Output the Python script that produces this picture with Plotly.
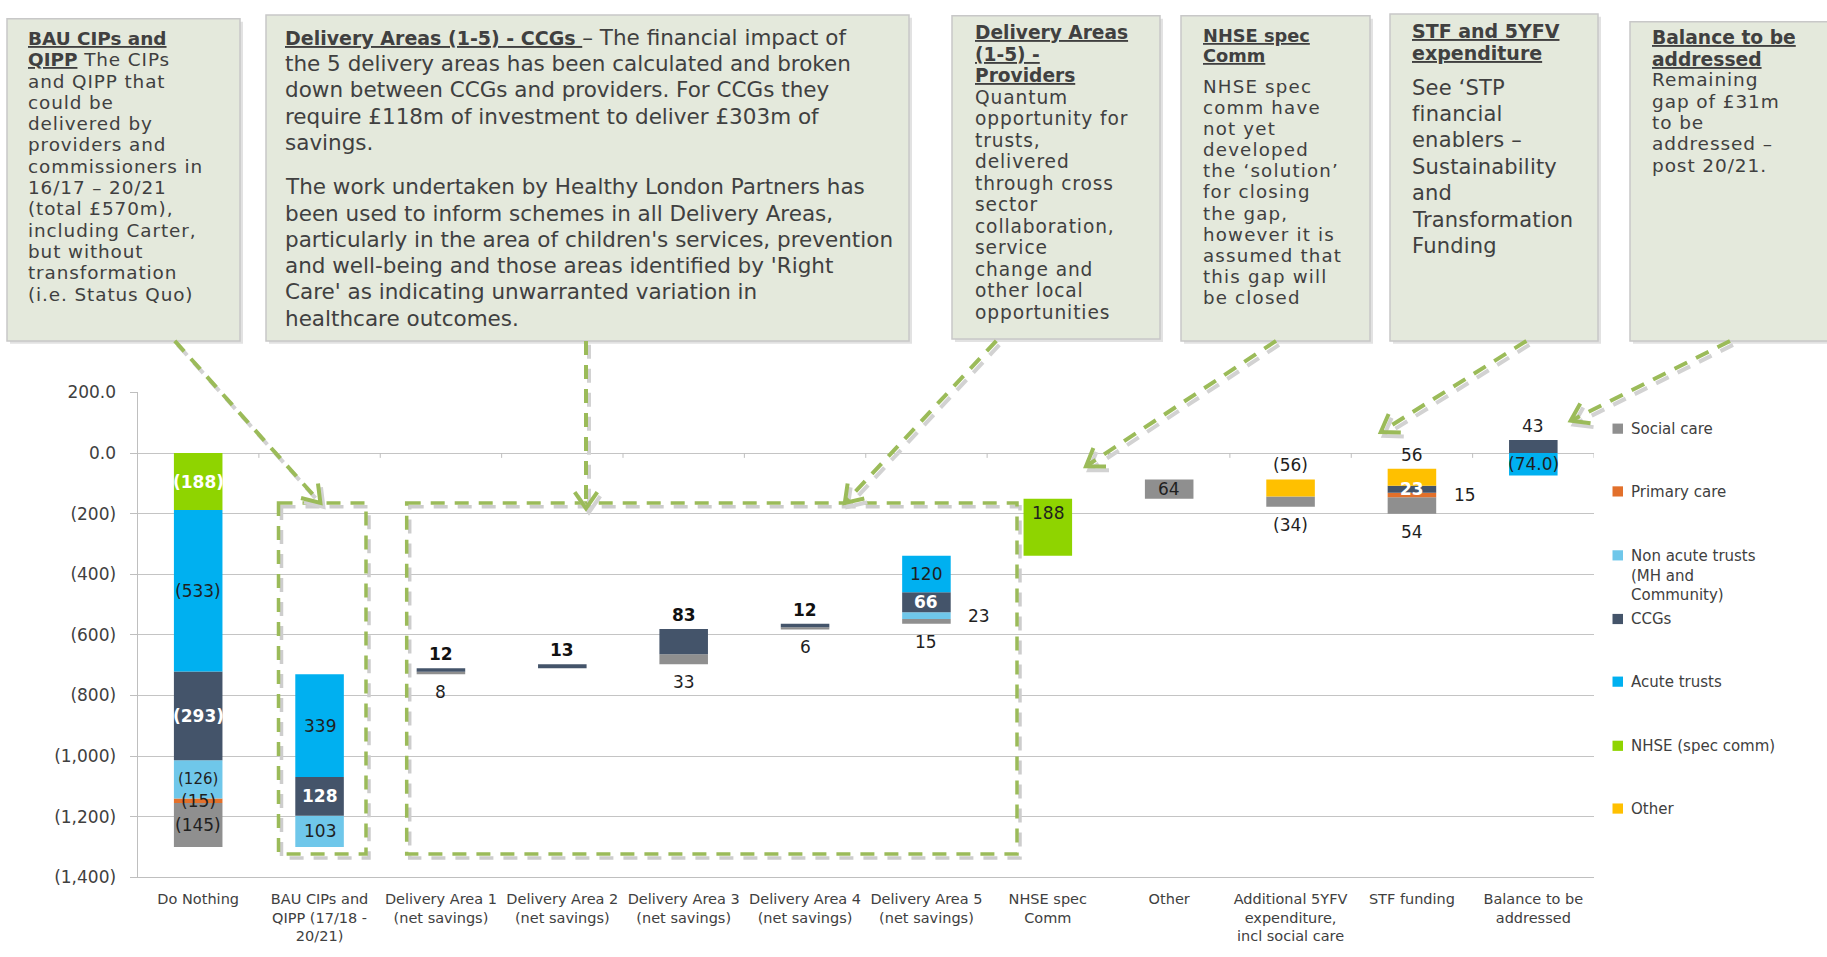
import math
import plotly.graph_objects as go

W, H = 1827, 957


def X(p):
    return p / W


def Y(p):
    return 1 - p / H


# ---------------- data ----------------
categories = [
    "Do Nothing",
    "BAU CIPs and<br>QIPP (17/18 -<br>20/21)",
    "Delivery Area 1<br>(net savings)",
    "Delivery Area 2<br>(net savings)",
    "Delivery Area 3<br>(net savings)",
    "Delivery Area 4<br>(net savings)",
    "Delivery Area 5<br>(net savings)",
    "NHSE spec<br>Comm",
    "Other",
    "Additional 5YFV<br>expenditure,<br>incl social care",
    "STF funding",
    "Balance to be<br>addressed",
]

# series in visual stacking order (bottom -> top)
series_names = ["Social care", "Primary care", "Non acute trusts<br>(MH and<br>Community)",
                "CCGs", "Acute trusts", "NHSE (spec comm)", "Other"]
series_colors = ["#8f8f8f", "#e2702b", "#6fc7ea", "#44546a", "#00b0f0", "#8fd400", "#ffc000"]

social_care = [-145, None, 8, None, 33, 6, 15, None, 64, -34, 54, None]
primary_care = [-15, None, None, None, None, None, None, None, None, None, 15, None]
non_acute = [-126, 103, None, None, None, None, 23, None, None, None, None, None]
ccgs = [-293, 128, 12, 13, 83, 12, 66, None, None, None, 23, 43]
acute_trusts = [-533, 339, None, None, None, None, 120, None, None, None, None, -74]
nhse_spec = [-188, None, None, None, None, None, None, 188, None, None, None, None]
other = [None, None, None, None, None, None, None, None, None, -56, 56, None]

# level each waterfall bar starts from (Excel hidden base)
start_level = [0, -1300, -730, -710, -697, -581, -563, -339, -151, -87, -200, 0]

series_values = [social_care, primary_care, non_acute, ccgs, acute_trusts, nhse_spec, other]

y_tick_values = [200, 0, -200, -400, -600, -800, -1000, -1200, -1400]
y_tick_labels = ["200.0", "0.0", "(200)", "(400)", "(600)", "(800)", "(1,000)", "(1,200)", "(1,400)"]

# (category, series, position, style)
label_specs = [
    (0, 5, "in", "w"), (0, 4, "in", "d"), (0, 3, "in", "w"), (0, 2, "in", "s"),
    (0, 1, "in", "d"), (0, 0, "in", "d"),
    (1, 4, "in", "d"), (1, 3, "in", "w"), (1, 2, "in", "d"),
    (2, 3, "above", "b"), (2, 0, "below", "d"),
    (3, 3, "above", "b"),
    (4, 3, "above", "b"), (4, 0, "below", "d"),
    (5, 3, "above", "b"), (5, 0, "below", "d"),
    (6, 4, "in", "d"), (6, 3, "in", "w"), (6, 2, "right", "d"), (6, 0, "below", "d"),
    (7, 5, "intop", "d"),
    (8, 0, "in", "d"),
    (9, 6, "above", "d"), (9, 0, "below", "d"),
    (10, 6, "above", "d"), (10, 3, "in", "w"), (10, 1, "right", "d"), (10, 0, "below", "d"),
    (11, 3, "above", "d"), (11, 4, "in", "d"),
]
label_decimals = {(11, 4): 1}

# ---------------- build bars ----------------
n = len(categories)
segs = {}
bar_top, bar_bot = [], []
for i in range(n):
    S = start_level[i]
    up = S
    down = S
    for s, vals in enumerate(series_values):
        v = vals[i]
        if v is not None and v > 0:
            segs[(i, s)] = (up, up + v)
            up += v
    for s in reversed(range(len(series_values))):
        v = series_values[s][i]
        if v is not None and v < 0:
            segs[(i, s)] = (down + v, down)
            down += v
    bar_top.append(up)
    bar_bot.append(down)

fig = go.Figure()
for s, name in enumerate(series_names):
    xs, ys, bs = [], [], []
    for i in range(n):
        if (i, s) in segs:
            lo, hi = segs[(i, s)]
            xs.append(i)
            ys.append(hi - lo)
            bs.append(lo)
    fig.add_trace(go.Bar(x=xs, y=ys, base=bs, width=0.4, name=name,
                         marker=dict(color=series_colors[s], line=dict(width=0)),
                         showlegend=False, hoverinfo="skip"))

annotations = []
shapes = []

FONT = "DejaVu Sans"
styles = {
    "w": dict(family=FONT, size=17, color="#ffffff", weight="bold"),
    "d": dict(family=FONT, size=17, color="#1f1f1f"),
    "b": dict(family=FONT, size=17, color="#111111", weight="bold"),
    "s": dict(family=FONT, size=15, color="#1f1f1f"),
}


def fmt(v, d=0):
    t = f"{abs(v):,.{d}f}"
    return f"({t})" if v < 0 else t


for (i, s, pos, st) in label_specs:
    v = series_values[s][i]
    lo, hi = segs[(i, s)]
    txt = fmt(v, label_decimals.get((i, s), 0))
    a = dict(xref="x", yref="y", text=txt, showarrow=False, font=styles[st], x=i)
    if pos == "in":
        a.update(y=(lo + hi) / 2, yanchor="middle")
    elif pos == "intop":
        a.update(y=hi, yanchor="top", yshift=-2)
    elif pos == "above":
        a.update(y=bar_top[i], yanchor="middle", yshift=14)
    elif pos == "below":
        a.update(y=bar_bot[i], yanchor="middle", yshift=-18)
    elif pos == "right":
        a.update(x=i + 0.33, xanchor="left", y=(lo + hi) / 2, yanchor="middle")
    annotations.append(a)

# small category ticks on the zero line
for k in range(n + 1):
    shapes.append(dict(type="line", xref="x", yref="y", x0=k - 0.5, x1=k - 0.5, y0=0, y1=-16,
                       line=dict(color="#bfbfbf", width=1)))

# ---------------- text boxes ----------------
BOX_FILL = "#e4e9dc"
BODY = "#404040"

# each line: (underlined bold header part, normal body part)
boxes = [
    dict(rect=(7, 9, 240, 338), tx=25.5, size=18.4, hsize=18.4, ls=0.9, lines=[
        (29.1, 21.75, [("BAU CIPs and", ""), ("QIPP", " The CIPs"), ("", "and QIPP that"),
                       ("", "could be"), ("", "delivered by"), ("", "providers and"),
                       ("", "commissioners in"), ("", "16/17 – 20/21"), ("", "(total £570m),"),
                       ("", "including Carter,"), ("", "but without"), ("", "transformation"),
                       ("", "(i.e. Status Quo)")])]),
    dict(rect=(266, 5, 909, 338), tx=283, size=21.5, hsize=19, ls=0, lines=[
        (28, 26.8, [("Delivery Areas (1-5) - CCGs ", "– The financial impact of"),
                    ("", "the 5 delivery areas has been calculated and broken"),
                    ("", "down between CCGs and providers. For CCGs they"),
                    ("", "require £118m of investment to deliver £303m of"),
                    ("", "savings.")]),
        (180.6, 26.8, [("", "The work undertaken by Healthy London Partners has"),
                       ("", "been used to inform schemes in all Delivery Areas,"),
                       ("", "particularly in the area of children's services, prevention"),
                       ("", "and well-being and those areas identified by 'Right"),
                       ("", "Care' as indicating unwarranted variation in"),
                       ("", "healthcare outcomes.")])]),
    dict(rect=(952, 6, 1160, 336), tx=973, size=18.6, hsize=18.6, ls=0.9, lines=[
        (23.3, 21.95, [("Delivery Areas", ""), ("(1-5) -", ""), ("Providers", ""),
                       ("", "Quantum"), ("", "opportunity for"), ("", "trusts,"), ("", "delivered"),
                       ("", "through cross"), ("", "sector"), ("", "collaboration,"), ("", "service"),
                       ("", "change and"), ("", "other local"), ("", "opportunities")])]),
    dict(rect=(1181, 6, 1370, 338), tx=1201, size=18.2, hsize=17.8, ls=1.2, lines=[
        (25.6, 21.0, [("NHSE spec", ""), ("Comm", "")]),
        (78.1, 21.55, [("", "NHSE spec"), ("", "comm have"), ("", "not yet"), ("", "developed"),
                       ("", "the ‘solution’"), ("", "for closing"), ("", "the gap,"),
                       ("", "however it is"), ("", "assumed that"), ("", "this gap will"),
                       ("", "be closed")])]),
    dict(rect=(1390, 4, 1598, 338), tx=1410, size=21, hsize=19, ls=0.2, lines=[
        (21, 23.3, [("STF and 5YFV", ""), ("expenditure", "")]),
        (79.2, 27.0, [("", "See ‘STP"), ("", "financial"), ("", "enablers –"),
                      ("", "Sustainability"), ("", "and"), ("", "Transformation"), ("", "Funding")])]),
    dict(rect=(1630, 12, 1840, 338), tx=1650, size=18.5, hsize=18.7, ls=0.9, lines=[
        (28, 22.1, [("Balance to be", ""), ("addressed", "")]),
        (71.1, 21.85, [("", "Remaining"), ("", "gap of £31m"), ("", "to be"), ("", "addressed –"),
                       ("", "post 20/21.")])]),
]

for b in boxes:
    x0, y0, x1, y1 = b["rect"]
    shapes.append(dict(type="rect", xref="paper", yref="paper", layer="above",
                       x0=X(x0 + 3), x1=X(x1 + 3), y0=Y(y0 + 3), y1=Y(y1 + 3),
                       fillcolor="#d6d6d6", line=dict(width=0), opacity=0.7))
    shapes.append(dict(type="rect", xref="paper", yref="paper", layer="above",
                       x0=X(x0), x1=X(x1), y0=Y(y0), y1=Y(y1),
                       fillcolor=BOX_FILL, line=dict(color="#c8c8c8", width=1.5)))
    for (ystart, dy, lines) in b["lines"]:
        for k, (head, body) in enumerate(lines):
            t = ""
            if head:
                t += f"<span style='font-size:{b['hsize']}px'><b><u>{head}</u></b></span>"
            if body:
                if b["ls"]:
                    t += f"<span style='letter-spacing:{b['ls']}px'>{body}</span>"
                else:
                    t += body
            annotations.append(dict(xref="paper", yref="paper", x=X(b["tx"]), y=Y(ystart + k * dy),
                                    xanchor="left", yanchor="middle", showarrow=False, text=t,
                                    font=dict(family=FONT, size=b["size"], color=BODY)))

# ---------------- dashed highlight rectangles ----------------
GREEN = "#9bbb59"
for (x0, y0, x1, y1) in [(278.5, 503.4, 366, 862), (406.7, 503.4, 1017, 862)]:
    shapes.append(dict(type="rect", xref="paper", yref="paper", layer="above",
                       x0=X(x0 + 3), x1=X(x1 + 3), y0=Y(y0 + 4), y1=Y(y1 + 4),
                       line=dict(color="#cdcdcd", width=3.5, dash="14px,10px")))
    shapes.append(dict(type="rect", xref="paper", yref="paper", layer="above",
                       x0=X(x0), x1=X(x1), y0=Y(y0), y1=Y(y1),
                       line=dict(color=GREEN, width=3.5, dash="14px,10px")))

# ---------------- dashed arrows ----------------
arrows = [
    ((174.8, 338), (320.4, 503.4)),
    ((586, 338), (586, 509)),
    ((996.3, 338), (844.8, 503.4)),
    ((1276, 338), (1086, 466)),
    ((1526.4, 338), (1380.8, 431)),
    ((1730, 338), (1570.7, 419.5)),
]
for (sx, sy), (ex, ey) in arrows:
    for off, col in [((3, 4), "#d2d2d2"), ((0, 0), GREEN)]:
        ox, oy = off
        shapes.append(dict(type="line", xref="paper", yref="paper", layer="above",
                           x0=X(sx + ox), y0=Y(sy + oy), x1=X(ex + ox), y1=Y(ey + oy),
                           line=dict(color=col, width=4, dash="14px,10px")))
        ang = math.atan2(sy - ey, sx - ex)
        L = 20
        a1 = (ex + ox + L * math.cos(ang + 0.6), ey + oy + L * math.sin(ang + 0.6))
        a2 = (ex + ox + L * math.cos(ang - 0.6), ey + oy + L * math.sin(ang - 0.6))
        path = (f"M {X(a1[0])},{Y(a1[1])} L {X(ex + ox)},{Y(ey + oy)} L {X(a2[0])},{Y(a2[1])}")
        shapes.append(dict(type="path", xref="paper", yref="paper", layer="above", path=path,
                           line=dict(color=col, width=4)))

# ---------------- legend (drawn manually) ----------------
legend_rows = [427.6, 491.7, 557, 622, 686, 751.5, 815.6]
for s, name in enumerate(series_names):
    yc = legend_rows[s]
    shapes.append(dict(type="rect", xref="paper", yref="paper", x0=X(1612.5), x1=X(1623),
                       y0=Y(yc + 5.2), y1=Y(yc - 5.2), fillcolor=series_colors[s],
                       line=dict(width=0)))
    annotations.append(dict(xref="paper", yref="paper", x=X(1629), y=Y(yc - 11),
                            xanchor="left", yanchor="top", showarrow=False, text=name, align="left",
                            font=dict(family=FONT, size=15, color="#404040")))

fig.update_layout(
    width=W, height=H,
    margin=dict(l=0, r=0, t=0, b=0),
    paper_bgcolor="white", plot_bgcolor="white",
    barmode="overlay", showlegend=False,
    xaxis=dict(domain=[X(137.5), X(1594)], range=[-0.5, n - 0.5],
               tickvals=list(range(n)), ticktext=categories,
               tickfont=dict(family=FONT, size=14.5, color="#404040"),
               showgrid=False, zeroline=False, showline=True, linecolor="#bfbfbf", linewidth=1,
               ticks="", ticklabelstandoff=8),
    yaxis=dict(domain=[Y(885.8), Y(390.6)], range=[-1400, 200],
               tickvals=y_tick_values, ticktext=y_tick_labels,
               tickfont=dict(family=FONT, size=17, color="#404040"),
               showgrid=True, gridcolor="#c4c4c4", gridwidth=1, zeroline=False,
               showline=True, linecolor="#bfbfbf", linewidth=1,
               ticks="outside", ticklen=7, tickcolor="#bfbfbf", ticklabelstandoff=10),
    annotations=annotations,
    shapes=shapes,
)

fig.write_html("out.html", config={"displayModeBar": False},
               post_script="document.body.style.margin='0';document.body.style.overflow='hidden';")
